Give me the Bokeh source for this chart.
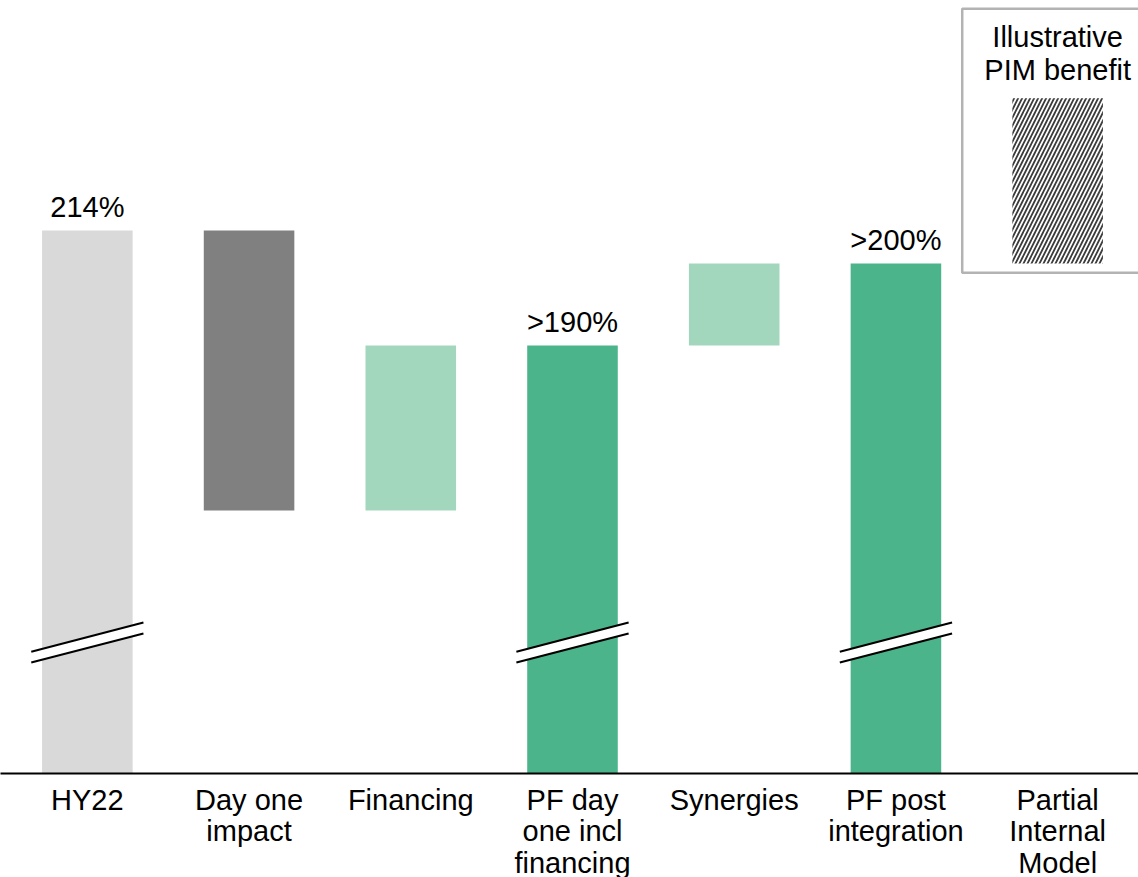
from bokeh.plotting import figure
from bokeh.models import Range1d, ColumnDataSource
from bokeh.embed import file_html
from bokeh.resources import INLINE
from bokeh.core.properties import value

# ---- data ----
categories = ["HY22", "Day one\nimpact", "Financing", "PF day\none incl\nfinancing",
              "Synergies", "PF post\nintegration", "Partial\nInternal\nModel"]
hy22_ratio = 214.0
day_one_impact = -58.4
financing = 34.4
synergies = 17.1
pim_benefit = 34.5
total_labels = ["214%", ">190%", ">200%"]
legend_text = "Illustrative\nPIM benefit"

# ---- derived waterfall ----
lvl0 = hy22_ratio
lvl1 = lvl0 + day_one_impact
lvl2 = lvl1 + financing
lvl3 = lvl2 + synergies
lvl4 = lvl3 + pim_benefit

FONT = value("Liberation Sans")
GREY_LIGHT = "#D9D9D9"
GREY_DARK = "#808080"
GREEN_LIGHT = "#A3D7BD"
GREEN = "#4BB48A"

axis_base = 100.7
y_lo, y_hi = 79.0, 262.0
bw = 0.56

p = figure(width=1138, height=877, x_range=Range1d(-0.537, 6.5),
           y_range=Range1d(y_lo, y_hi), output_backend="svg",
           toolbar_location=None, min_border=0)
p.axis.visible = False
p.grid.visible = False
p.outline_line_color = None
p.background_fill_color = "white"

xs = list(range(len(categories)))

# bars
bars = ColumnDataSource(dict(
    x=xs[:6],
    top=[lvl0, lvl0, lvl2, lvl2, lvl3, lvl3],
    bottom=[axis_base, lvl1, lvl1, axis_base, lvl2, axis_base],
    color=[GREY_LIGHT, GREY_DARK, GREEN_LIGHT, GREEN, GREEN_LIGHT, GREEN],
))
p.vbar(x="x", top="top", bottom="bottom", width=bw, fill_color="color",
       line_color=None, source=bars)

# legend box
p.quad(left=5.41, right=6.7, top=260.3, bottom=205.2, fill_color="white",
       line_color="#B3B3B3", line_width=2.5)

# PIM hatched bar
p.vbar(x=[xs[6]], top=[lvl4], bottom=[lvl3], width=bw, fill_color="white",
       line_color=None, hatch_pattern="/", hatch_color="#3C3C3C",
       hatch_scale=8, hatch_weight=1.8)

p.text(x=[6.0], y=[250.95], text=[legend_text], text_font=FONT,
       text_font_size="29px", text_align="center", text_baseline="middle",
       text_line_height=1.02, text_color="black")

# axis break marks on totals
tot_x = [xs[0], xs[3], xs[5]]
hw = 0.347
patch_xs, patch_ys, line_xs, line_ys = [], [], [], []
for x in tot_x:
    patch_xs.append([x - hw, x + hw, x + hw, x - hw])
    patch_ys.append([123.85, 129.9, 132.2, 126.1])
    line_xs += [[x - hw, x + hw], [x - hw, x + hw]]
    line_ys += [[126.1, 132.2], [123.85, 129.9]]
p.patches(xs=patch_xs, ys=patch_ys, fill_color="white", line_color=None)
p.multi_line(xs=line_xs, ys=line_ys, line_color="black", line_width=2)

# total labels
p.text(x=tot_x, y=[lvl0, lvl2, lvl3], text=total_labels, text_font=FONT,
       text_font_size="29px", text_align="center", text_baseline="alphabetic",
       y_offset=-24, text_color="black")

# baseline
p.segment(x0=[-0.55], y0=[axis_base], x1=[6.6], y1=[axis_base],
          line_color="black", line_width=2)

# category labels
p.text(x=xs, y=[axis_base] * len(xs), text=categories, text_font=FONT,
       text_font_size="29px", text_align="center", text_baseline="top",
       text_line_height=0.99, y_offset=10, text_color="black")

open("out.html", "w").write(file_html(p, INLINE))
